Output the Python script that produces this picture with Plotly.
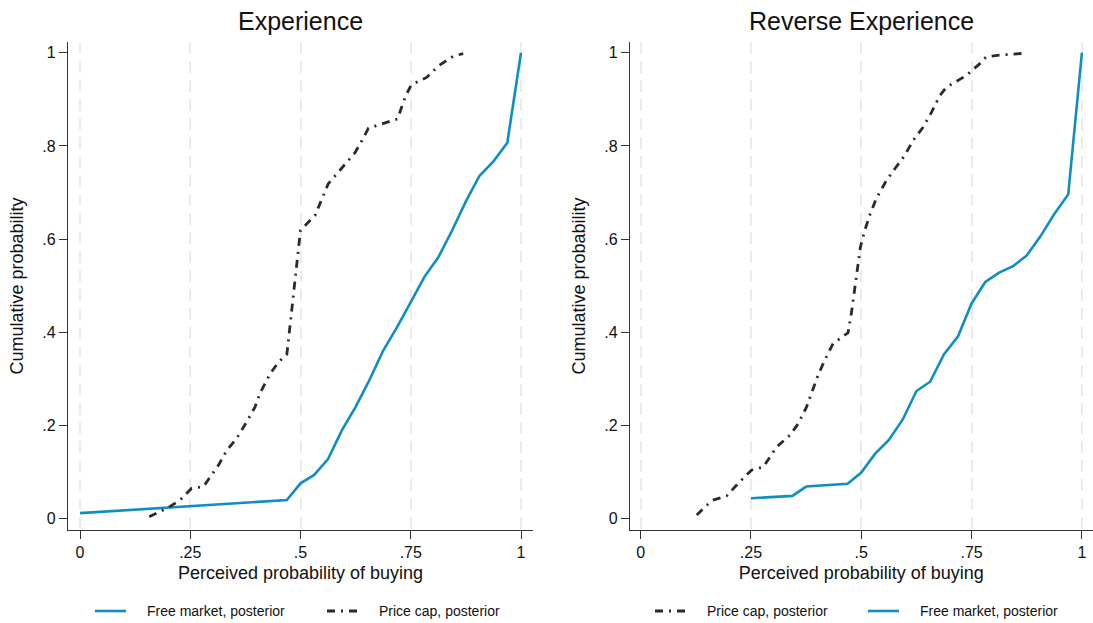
import plotly.graph_objects as go

# ---------------- data ----------------
fm_exp_x = [0.0, 0.469, 0.5, 0.531, 0.5625, 0.594, 0.625, 0.656, 0.6875, 0.719, 0.75,
            0.781, 0.8125, 0.844, 0.875, 0.906, 0.9375, 0.969, 1.0]
fm_exp_y = [0.012, 0.040, 0.076, 0.094, 0.128, 0.19, 0.24, 0.297, 0.361, 0.411, 0.465,
            0.519, 0.561, 0.619, 0.681, 0.736, 0.767, 0.807, 1.0]

pc_exp_x = [0.157, 0.2, 0.227, 0.253, 0.28, 0.291, 0.314, 0.333, 0.355, 0.378, 0.397,
            0.408, 0.431, 0.45, 0.469, 0.471, 0.5, 0.533, 0.548, 0.563, 0.586, 0.612,
            0.624, 0.639, 0.654, 0.684, 0.72, 0.737, 0.751, 0.786, 0.813, 0.847, 0.869]
pc_exp_y = [0.004, 0.024, 0.04, 0.065, 0.069, 0.083, 0.115, 0.147, 0.172, 0.208, 0.24,
            0.269, 0.311, 0.336, 0.353, 0.369, 0.619, 0.651, 0.687, 0.719, 0.744, 0.772,
            0.786, 0.811, 0.838, 0.847, 0.858, 0.904, 0.931, 0.947, 0.972, 0.993, 0.998]

fm_rev_x = [0.25, 0.344, 0.375, 0.469, 0.5, 0.531, 0.5625, 0.594, 0.625, 0.656, 0.6875,
            0.719, 0.75, 0.781, 0.8125, 0.844, 0.875, 0.906, 0.9375, 0.969, 1.0]
fm_rev_y = [0.044, 0.049, 0.069, 0.075, 0.099, 0.139, 0.169, 0.213, 0.274, 0.294, 0.353,
            0.391, 0.462, 0.508, 0.528, 0.542, 0.565, 0.606, 0.654, 0.696, 1.0]

pc_rev_x = [0.127, 0.161, 0.195, 0.221, 0.251, 0.278, 0.308, 0.338, 0.357, 0.376, 0.402,
            0.417, 0.436, 0.47, 0.478, 0.498, 0.508, 0.519, 0.534, 0.557, 0.576, 0.598,
            0.617, 0.64, 0.659, 0.678, 0.693, 0.738, 0.768, 0.783, 0.813, 0.844, 0.874]
pc_rev_y = [0.008, 0.039, 0.049, 0.076, 0.104, 0.111, 0.154, 0.179, 0.204, 0.24, 0.308,
            0.34, 0.376, 0.399, 0.444, 0.583, 0.619, 0.651, 0.687, 0.726, 0.751, 0.779,
            0.811, 0.84, 0.872, 0.908, 0.926, 0.951, 0.976, 0.991, 0.995, 0.997, 0.999]

x_tickvals = [0, 0.25, 0.5, 0.75, 1]
x_ticktext = ["0", ".25", ".5", ".75", "1"]
y_tickvals = [0, 0.2, 0.4, 0.6, 0.8, 1]
y_ticktext = ["0", ".2", ".4", ".6", ".8", "1"]

panel_titles = ["Experience", "Reverse Experience"]
x_title = "Perceived probability of buying"
y_title = "Cumulative probability"
lbl_fm = "Free market, posterior"
lbl_pc = "Price cap, posterior"

# ---------------- styling ----------------
FONT = "Liberation Sans, Arial, sans-serif"
BLUE = "#0f8ec4"
DARK = "#2b2b2b"
DASHDOT = "8px,6px,2px,6px"
W = 1093
H = 623

fig = go.Figure()

fig.add_trace(go.Scatter(x=fm_exp_x, y=fm_exp_y, mode="lines", name=lbl_fm,
                         line=dict(color=BLUE, width=2.6), xaxis="x", yaxis="y",
                         showlegend=False))
fig.add_trace(go.Scatter(x=pc_exp_x, y=pc_exp_y, mode="lines", name=lbl_pc,
                         line=dict(color=DARK, width=2.8, dash=DASHDOT), xaxis="x", yaxis="y",
                         showlegend=False))
fig.add_trace(go.Scatter(x=pc_rev_x, y=pc_rev_y, mode="lines", name=lbl_pc,
                         line=dict(color=DARK, width=2.8, dash=DASHDOT), xaxis="x2", yaxis="y2",
                         showlegend=False))
fig.add_trace(go.Scatter(x=fm_rev_x, y=fm_rev_y, mode="lines", name=lbl_fm,
                         line=dict(color=BLUE, width=2.6), xaxis="x2", yaxis="y2",
                         showlegend=False))

def px_x(p):
    return p / W

def px_y(p):
    return 1 - p / H

ydom = [px_y(530), px_y(42)]

common_x = dict(
    tickvals=x_tickvals, ticktext=x_ticktext,
    showline=True, linecolor="#333333", linewidth=1.3,
    ticks="outside", ticklen=8, tickwidth=1.2, tickcolor="#333333",
    showgrid=True, gridcolor="#ebebeb", gridwidth=1.5, griddash="12px,7px",
    zeroline=False, tickfont=dict(size=16, color="#111111", family=FONT),
    title=dict(text=x_title, font=dict(size=18, color="#111111", family=FONT), standoff=6),
    automargin=False, fixedrange=True,
)
common_y = dict(
    tickvals=y_tickvals, ticktext=y_ticktext,
    showline=True, linecolor="#333333", linewidth=1.3,
    ticks="outside", ticklen=8, tickwidth=1.2, tickcolor="#333333",
    showgrid=False, zeroline=False,
    tickfont=dict(size=16, color="#111111", family=FONT),
    title=dict(text=y_title, font=dict(size=18, color="#111111", family=FONT), standoff=14),
    automargin=False, fixedrange=True, range=[-0.0242, 1.023], domain=ydom,
)

fig.update_layout(
    width=W, height=H,
    margin=dict(l=0, r=0, t=0, b=0),
    paper_bgcolor="white", plot_bgcolor="white",
    font=dict(family=FONT, color="#111111"),
    showlegend=False,
    xaxis=dict(common_x, domain=[px_x(68), px_x(533)], range=[-0.0272, 1.0272], anchor="y"),
    yaxis=dict(common_y, anchor="x"),
    xaxis2=dict(common_x, domain=[px_x(630), px_x(1092.5)], range=[-0.0242, 1.024], anchor="y2"),
    yaxis2=dict(common_y, anchor="x2"),
)

# panel titles
for t, cx in zip(panel_titles, [300.5, 861.5]):
    fig.add_annotation(text=t, x=px_x(cx), y=px_y(21), xref="paper", yref="paper",
                       xanchor="center", yanchor="middle", showarrow=False,
                       font=dict(size=25, color="#111111", family=FONT))

# legends (one under each panel)
legend_items = [
    (95, lbl_fm, BLUE, "solid"),
    (327, lbl_pc, DARK, DASHDOT),
    (655, lbl_pc, DARK, DASHDOT),
    (868, lbl_fm, BLUE, "solid"),
]
ly = px_y(611)
for x0, lbl, col, dsh in legend_items:
    fig.add_shape(type="line", xref="paper", yref="paper",
                  x0=px_x(x0), x1=px_x(x0 + 31), y0=ly, y1=ly,
                  line=dict(color=col, width=2.6 if dsh == "solid" else 2.8, dash=dsh))
    fig.add_annotation(text=lbl, x=px_x(x0 + 50), y=ly, xref="paper", yref="paper",
                       xanchor="left", yanchor="middle", showarrow=False,
                       font=dict(size=14, color="#111111", family=FONT))

fig.write_html("out.html", config={"displayModeBar": False},
               post_script="document.body.style.margin='0';")
